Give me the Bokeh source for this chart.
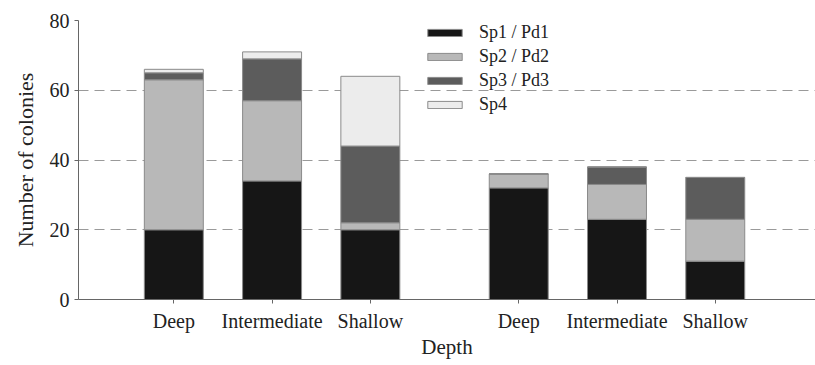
from bokeh.plotting import figure
from bokeh.models import ColumnDataSource, Legend, LegendItem, FixedTicker, Range1d
from bokeh.embed import file_html
from bokeh.resources import INLINE

depths = ["Deep", "Intermediate", "Shallow", "Deep", "Intermediate", "Shallow"]
group = [0, 0, 0, 1, 1, 1]
series = ["Sp1 / Pd1", "Sp2 / Pd2", "Sp3 / Pd3", "Sp4"]
sp1 = [20, 34, 20, 32, 23, 11]
sp2 = [43, 23, 2, 4, 10, 12]
sp3 = [2, 12, 22, 0, 5, 12]
sp4 = [1, 2, 20, 0, 0, 0]
yticks = [0, 20, 40, 60, 80]

colors = ["#161616", "#b8b8b8", "#5c5c5c", "#ececec"]
FONT = "Liberation Serif"

# layout positions: groups separated by an extra half slot
xpos = [i + 0.97 + 0.51 * g for i, g in enumerate(group)]

src = ColumnDataSource(dict(x=xpos, s1=sp1, s2=sp2, s3=sp3, s4=sp4))

p = figure(width=815, height=365, output_backend="svg", toolbar_location=None,
           x_range=Range1d(0, 7.5), y_range=Range1d(0, 80),
           min_border_left=78, min_border_right=0, min_border_top=20,
           min_border_bottom=66, outline_line_color=None)

rs = p.vbar_stack(["s1", "s2", "s3", "s4"], x="x", width=0.6, source=src,
                  fill_color=colors, line_color="#8a8a8a", line_width=1)

p.xgrid.visible = False
p.ygrid.grid_line_color = "#9a9a9a"
p.ygrid.grid_line_dash = "10 6"
p.ygrid.grid_line_width = 1
p.ygrid.ticker = FixedTicker(ticks=yticks)

p.xaxis.ticker = FixedTicker(ticks=xpos)
p.xaxis.major_label_overrides = {x: d for x, d in zip(xpos, depths)}
p.xaxis.axis_label = "Depth"
p.yaxis.ticker = FixedTicker(ticks=yticks)
p.yaxis.axis_label = "Number of colonies"

for ax in (p.xaxis[0], p.yaxis[0]):
    ax.axis_line_color = "#666666"
    ax.major_tick_line_color = "#666666"
    ax.minor_tick_line_color = None
    ax.major_tick_in = 0
    ax.major_tick_out = 4
    ax.major_label_text_font = FONT
    ax.major_label_text_font_size = "20px"
    ax.major_label_text_color = "#222222"
    ax.axis_label_text_font = FONT
    ax.axis_label_text_font_style = "normal"
    ax.axis_label_text_color = "#222222"

p.xaxis.axis_label_text_font_size = "21px"
p.yaxis.axis_label_text_font_size = "22px"
p.xaxis.major_label_standoff = 6
p.xaxis.axis_label_standoff = 0
p.yaxis.major_label_standoff = 5
p.yaxis.axis_label_standoff = 9

legend = Legend(items=[LegendItem(label=s, renderers=[r]) for s, r in zip(series, rs)],
                location=(345, 184), orientation="vertical",
                glyph_width=43, glyph_height=9, label_standoff=13,
                spacing=3, padding=0, margin=0,
                label_text_font=FONT, label_text_font_size="18px",
                label_text_color="#222222",
                border_line_color=None, background_fill_alpha=0)
p.add_layout(legend, "center")

open("out.html", "w").write(file_html(p, INLINE))
